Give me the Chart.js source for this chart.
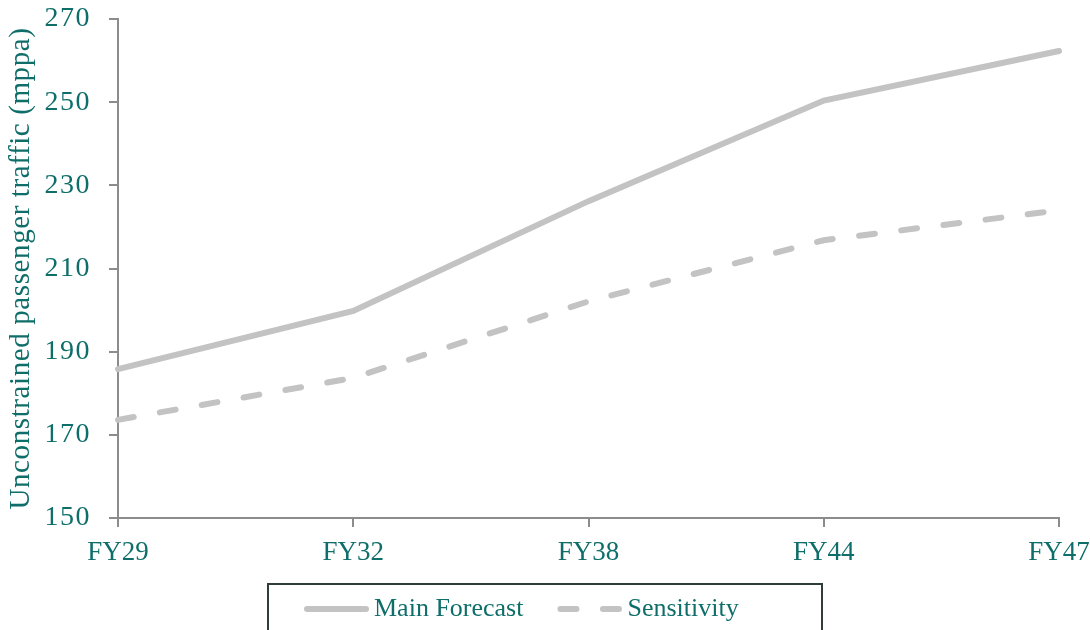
<!DOCTYPE html>
<html>
<head>
<meta charset="utf-8">
<script src="https://cdn.jsdelivr.net/npm/chart.js@4.4.1/dist/chart.umd.min.js"></script>
<style>
  html, body { margin: 0; padding: 0; background: #fff; }
  #wrap { width: 1090px; height: 630px; }
</style>
</head>
<body>
<div id="wrap"><canvas id="grafico"></canvas></div>
<script>
const ANOS = ["FY29", "FY32", "FY38", "FY44", "FY47"];
const PREVISAO_PRINCIPAL = [185.8, 199.8, 226.2, 250.4, 262.3];
const SENSIBILIDADE = [173.6, 183.7, 202.1, 216.8, 224.0];
const Y_MIN = 150, Y_MAX = 270, Y_PASSO = 20;

const TEAL  = "#0f6e69";
const CINZA = "#c3c3c3";
const EIXO  = "#8c8c8c";
const FONTE = "'Liberation Serif', 'Times New Roman', serif";

// eixo Y: espaçamento entre letras um pouco maior nos números e no título
const espacoEixoY = {
  id: "espacoEixoY",
  beforeDraw(chart) {
    const s = chart.scales.y;
    if (s._espacado) return;
    s._espacado = true;
    const ctx = chart.ctx;
    const labels = s.drawLabels, titulo = s.drawTitle;
    s.drawLabels = function (...a) { ctx.save(); ctx.letterSpacing = "1.5px"; labels.apply(this, a); ctx.restore(); };
    s.drawTitle  = function (...a) { ctx.save(); ctx.letterSpacing = "0.6px"; titulo.apply(this, a); ctx.restore(); };
  }
};

// legenda desenhada à mão, dentro de uma moldura centrada embaixo
const legendaMoldura = {
  id: "legendaMoldura",
  afterDraw(chart) {
    const ctx = chart.ctx;
    const larg = 554, topo = 584;
    const x0 = chart.width / 2 - larg / 2;
    const yLinha = 609;
    ctx.save();
    ctx.strokeStyle = "#2e3d36";
    ctx.lineWidth = 2;
    ctx.strokeRect(x0, topo, larg, chart.height - topo + 10);

    ctx.font = "26px " + FONTE;
    ctx.textBaseline = "middle";
    ctx.fillStyle = TEAL;
    let x = x0 + 39;
    chart.data.datasets.forEach(ds => {
      ctx.save();
      ctx.strokeStyle = ds.borderColor;
      ctx.lineWidth = ds.borderWidth;
      ctx.lineCap = "round";
      ctx.setLineDash(ds.borderDash || []);
      ctx.beginPath();
      ctx.moveTo(x, yLinha);
      ctx.lineTo(x + 59, yLinha);
      ctx.stroke();
      ctx.restore();
      x += 59 + 8;
      ctx.fillText(ds.label, x, yLinha);
      x += ctx.measureText(ds.label).width + 37;
    });
    ctx.restore();
  }
};

new Chart(document.getElementById("grafico"), {
  type: "line",
  data: {
    labels: ANOS,
    datasets: [
      {
        label: "Main Forecast",
        data: PREVISAO_PRINCIPAL,
        borderColor: CINZA,
        borderWidth: 6,
        borderCapStyle: "round",
        pointRadius: 0,
        tension: 0,
      },
      {
        label: "Sensitivity",
        data: SENSIBILIDADE,
        borderColor: CINZA,
        borderWidth: 6,
        borderDash: [16, 26.5],
        borderCapStyle: "round",
        pointRadius: 0,
        tension: 0,
      }
    ]
  },
  options: {
    responsive: true,
    maintainAspectRatio: false,
    animation: false,
    layout: { padding: { top: 19, right: 0, left: 0, bottom: 65 } },
    plugins: {
      tooltip: { enabled: false },
      legend: { display: false }
    },
    scales: {
      x: {
        offset: false,
        border: { color: EIXO, width: 2 },
        grid: { display: true, drawOnChartArea: false, drawTicks: true, tickLength: 9, color: EIXO, lineWidth: 2 },
        ticks: { color: TEAL, font: { family: FONTE, size: 27 }, padding: 10, maxRotation: 0 },
        afterFit(s) { s.height = 47; s.paddingRight = 31; }
      },
      y: {
        min: Y_MIN,
        max: Y_MAX,
        border: { color: EIXO, width: 2 },
        grid: { display: true, drawOnChartArea: false, drawTicks: true, tickLength: 9, color: EIXO, lineWidth: 2 },
        ticks: { stepSize: Y_PASSO, color: TEAL, font: { family: FONTE, size: 28 }, padding: 18 },
        title: {
          display: true,
          text: "Unconstrained passenger traffic (mppa)",
          color: TEAL,
          font: { family: FONTE, size: 29 },
          padding: { top: 4, bottom: 0 },
        },
        afterFit(s) { s.width = 118; s.paddingTop = 0; s.paddingBottom = 0; }
      }
    }
  },
  plugins: [espacoEixoY, legendaMoldura]
});
</script>
</body>
</html>
